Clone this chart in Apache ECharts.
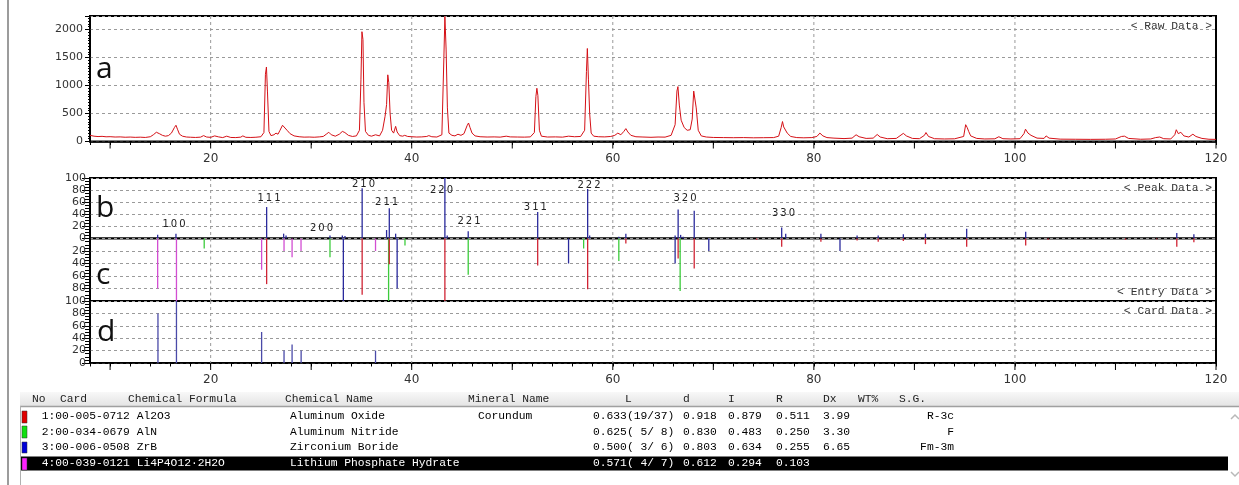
<!DOCTYPE html>
<html><head><meta charset="utf-8">
<script src="https://cdn.jsdelivr.net/npm/echarts@6/dist/echarts.min.js"></script>
<style>html,body{margin:0;padding:0;background:#fff;}#c{width:1239px;height:485px;}</style>
</head><body><div id="c"></div>
<script>
// ---------- DATA ----------
const xGridValues = [20, 40, 60, 80, 100, 120];
const xMajorTicks = [10, 20, 30, 40, 50, 60, 70, 80, 90, 100, 110, 120];
const rawData = [
[8.0,110],[8.4,95],[8.8,88],[9.2,92],[9.6,84],[10.0,86],[10.5,80],[11.0,82],[11.5,76],[12.0,79],[12.5,74],[13.0,77],[13.5,72],[14.0,85],[14.3,120],[14.6,165],[14.9,140],[15.2,110],[15.5,95],[15.8,105],[16.1,150],[16.4,250],[16.55,290],[16.7,220],[16.9,130],[17.2,95],[17.6,80],[18.0,76],[18.5,72],[19.0,78],[19.3,105],[19.6,80],[20.0,74],[20.4,100],[20.8,82],[21.2,70],[21.6,95],[22.0,72],[22.5,70],[23.0,78],[23.2,100],[23.5,75],[24.0,72],[24.5,76],[25.0,85],[25.3,160],[25.45,1200],[25.55,1330],[25.65,900],[25.8,180],[26.0,105],[26.3,120],[26.5,150],[26.7,130],[26.9,200],[27.15,290],[27.3,270],[27.6,200],[27.9,140],[28.3,100],[28.8,85],[29.3,78],[29.8,80],[30.3,76],[30.8,82],[31.2,90],[31.5,130],[31.75,165],[32.0,120],[32.4,95],[32.8,130],[33.1,180],[33.35,160],[33.7,110],[34.1,90],[34.5,100],[34.8,200],[34.95,1100],[35.05,1960],[35.15,1820],[35.25,700],[35.4,180],[35.7,110],[36.0,95],[36.4,120],[36.8,100],[37.1,200],[37.35,450],[37.5,660],[37.62,1190],[37.72,1050],[37.85,500],[38.0,200],[38.2,150],[38.4,270],[38.55,170],[38.8,105],[39.1,95],[39.3,110],[39.6,90],[40.0,85],[40.5,80],[41.0,82],[41.5,90],[41.7,105],[42.0,85],[42.5,80],[43.0,120],[43.2,1500],[43.3,2230],[43.42,1650],[43.55,600],[43.7,150],[44.0,110],[44.3,100],[44.6,130],[44.9,110],[45.2,140],[45.5,280],[45.65,330],[45.8,250],[46.0,150],[46.3,100],[46.8,85],[47.5,80],[48.2,82],[48.8,78],[49.4,95],[49.8,82],[50.5,80],[51.2,78],[51.8,82],[52.2,160],[52.35,800],[52.45,950],[52.55,820],[52.7,200],[52.9,95],[53.5,80],[54.3,82],[55.0,78],[55.6,95],[56.2,85],[56.8,90],[57.2,200],[57.38,1250],[57.47,1660],[57.58,1100],[57.7,500],[57.85,150],[58.1,95],[58.6,85],[59.2,82],[59.8,90],[60.2,110],[60.5,150],[60.8,120],[61.1,180],[61.3,230],[61.5,170],[61.8,110],[62.3,85],[63.0,80],[63.8,75],[64.5,80],[65.2,78],[65.8,110],[66.2,300],[66.38,900],[66.48,980],[66.62,650],[66.8,380],[67.1,250],[67.4,200],[67.7,210],[67.9,400],[68.05,900],[68.15,920],[68.3,600],[68.5,200],[68.8,100],[69.3,80],[70.0,72],[71.0,70],[72.0,68],[73.0,70],[74.0,66],[75.0,68],[76.0,70],[76.5,95],[76.75,250],[76.88,356],[77.0,260],[77.15,250],[77.35,150],[77.7,90],[78.3,70],[79.0,66],[79.8,70],[80.3,90],[80.6,150],[80.9,100],[81.3,70],[82.0,60],[83.0,52],[83.8,60],[84.2,120],[84.5,85],[85.2,55],[85.9,60],[86.3,125],[86.6,80],[87.3,50],[88.2,55],[88.9,145],[89.2,100],[89.8,55],[90.5,50],[91.0,110],[91.15,160],[91.4,90],[92.0,50],[93.0,45],[94.0,48],[94.9,90],[95.1,300],[95.25,250],[95.4,180],[95.6,100],[96.2,55],[97.0,45],[98.0,48],[98.4,85],[98.8,50],[99.6,45],[100.5,50],[100.9,140],[101.05,220],[101.3,150],[101.6,110],[102.2,60],[102.9,55],[103.1,100],[103.4,60],[104.5,42],[106.0,40],[107.5,38],[109.0,40],[110.0,45],[110.6,90],[110.9,95],[111.3,55],[112.5,40],[113.5,45],[114.0,70],[114.4,80],[114.8,50],[115.5,45],[115.9,120],[116.05,210],[116.25,140],[116.5,165],[116.8,100],[117.3,80],[117.7,130],[118.0,90],[118.6,55],[119.3,40],[120.0,38]
];
// Peak data (panel b, upward)
const peakData = [[14.73,6],[16.55,8],[25.57,52],[27.26,8],[27.5,5],[31.87,5],[33.1,5],[33.36,4],[35.07,83],[37.5,14],[37.77,50],[38.4,8],[43.3,100],[43.53,5],[45.62,12],[52.53,44],[57.5,82],[57.7,5],[60.6,3],[61.3,8],[66.2,5],[66.5,48],[66.75,6],[67.0,3],[68.1,46],[76.8,18],[77.2,8],[80.7,8],[84.3,5],[86.4,5],[88.9,7],[91.1,8],[95.2,16],[101.07,11],[116.1,9],[117.8,7]];
// Entry data (panel c, downward) per phase
const entryAl2O3 = [[25.57,73],[35.07,90],[37.77,41],[43.3,100],[52.53,43],[57.5,81],[61.3,8],[66.5,32],[68.1,48],[74.3,2],[76.8,13],[80.7,5],[84.3,3],[86.4,5],[88.9,4],[91.1,9],[95.2,13],[101.07,11],[103.3,2],[111.0,2],[114.1,1],[116.1,13],[117.8,6]];
const entryAlN = [[19.36,16],[31.87,30],[37.7,100],[39.33,11],[45.62,58],[57.1,16],[60.6,36],[66.7,84]];
const entryZrB = [[33.2,100],[38.55,80],[55.6,40],[66.2,40],[69.55,20],[82.6,20]];
const entryLiP = [[14.73,80],[16.6,100],[25.07,50],[27.3,20],[28.1,30],[28.99,20],[36.4,20]];
// Card data (panel d)
const cardData = [[14.76,80],[16.6,100],[25.07,50],[27.3,20],[28.1,30],[29.0,20],[36.4,20]];
// hkl labels
const millerText = ['100','111','200','210','211','220','221','311','222','320','330'];
const millerAngle = [16.35,25.8,31.03,35.2,37.5,42.96,45.7,52.3,57.63,67.18,76.98];
const millerLevel = [24,67,17,90,60,80,29,52,87,67,42];
// table
const tableHeader = ['No','Card','Chemical Formula','Chemical Name','Mineral Name','L','d','I','R','Dx','WT%','S.G.'];
const tableNoCard = ['1:00-005-0712','2:00-034-0679','3:00-006-0508','4:00-039-0121'];
const tableFormula = ['Al2O3','AlN','ZrB','Li4P4O12\u00b72H2O'];
const tableName = ['Aluminum Oxide','Aluminum Nitride','Zirconium Boride','Lithium Phosphate Hydrate'];
const tableMineral = ['Corundum','','',''];
const tableL = ['0.633(19/37)','0.625( 5/ 8)','0.500( 3/ 6)','0.571( 4/ 7)'];
const tableD = ['0.918','0.830','0.803','0.612'];
const tableI = ['0.879','0.483','0.634','0.294'];
const tableR = ['0.511','0.250','0.255','0.103'];
const tableDx = ['3.99','3.30','6.65',''];
const tableSG = ['R-3c','F','Fm-3m',''];
const phaseColors = ['#e00000','#10e010','#0000d8','#ff20ff'];

// ---------- CHART ----------
const chart = echarts.init(document.getElementById('c'), null, {renderer:'canvas'});
const L = 90, W = 1126;
const grids = [
  {left:L, top:16, width:W, height:125.5},
  {left:L, top:178, width:W, height:60.5},
  {left:L, top:238.5, width:W, height:62.5},
  {left:L, top:301, width:W, height:62}
].map(g => Object.assign({show:true, backgroundColor:'#fff', borderColor:'#000', borderWidth:2, containLabel:false}, g));

function xAx(gi, show){
  return {type:'value', gridIndex:gi, min:8, max:120, interval:2,
    axisLine:{show:show, onZero:false, lineStyle:{color:'#000', width:1.5}},
    axisTick:{show:show, length:3.5, lineStyle:{color:'#000'}},
    axisLabel:{show:show, margin:11, fontSize:12, color:'#333', fontFamily:'DejaVu Sans',
      formatter: v => xGridValues.indexOf(Math.round(v)) >= 0 && Math.abs(v-Math.round(v))<1e-6 ? String(Math.round(v)) : ''},
    splitLine:{show:false}};
}
function yAx(gi, opt){
  return Object.assign({type:'value', gridIndex:gi,
    axisLine:{show:true, onZero:false, lineStyle:{color:'#000', width:1.5}},
    axisTick:{show:true, length:opt.tick, lineStyle:{color:'#000'}},
    minorTick:{show:true, splitNumber:opt.minor, length:opt.tick-3, lineStyle:{color:'#000'}},
    axisLabel:{fontSize:11, color:'#333', fontFamily:'DejaVu Sans', margin:opt.margin, formatter:opt.fmt},
    splitLine:{show:true, lineStyle:{color:'#9a9a9a', type:[3,3], width:1}}}, opt.extra);
}

function stick(color, width){
  return function(params, api){
    const x = api.value(0), v = api.value(1);
    const p0 = api.coord([x, 0]), p1 = api.coord([x, v]);
    return {type:'line', shape:{x1:p0[0], y1:p0[1], x2:p1[0], y2:p1[1]}, style:{stroke:color, lineWidth:width||1.3}};
  };
}
function vgrid(params, api){
  const p = api.coord([api.value(0), 0]);
  const cs = params.coordSys;
  return {type:'line', shape:{x1:p[0], y1:cs.y, x2:p[0], y2:cs.y+cs.height}, style:{stroke:'#9a9a9a', lineWidth:1, lineDash:[3,3]}};
}
function majorTick(params, api){
  const p = api.coord([api.value(0), 0]);
  const cs = params.coordSys;
  const yb = cs.y + cs.height;
  return {type:'line', shape:{x1:p[0], y1:yb, x2:p[0], y2:yb+7}, style:{stroke:'#000', lineWidth:1}};
}
const gridLineData = xGridValues.filter(v => v < 120).map(v => [v]);
const series = [];
for (let i = 0; i < 4; i++) {
  series.push({type:'custom', xAxisIndex:i, yAxisIndex:i, data:gridLineData, renderItem:vgrid, silent:true, z:1});
}
[0, 3].forEach(i => series.push({type:'custom', xAxisIndex:i, yAxisIndex:i, data:xMajorTicks.map(v => [v]), renderItem:majorTick, silent:true, clip:false, z:5}));
series.push({type:'line', xAxisIndex:0, yAxisIndex:0, data:rawData, showSymbol:false, symbol:'none', smooth:false, lineStyle:{color:'#d41016', width:1}, silent:true, z:3});
series.push({type:'custom', xAxisIndex:1, yAxisIndex:1, data:peakData, renderItem:stick('#2a2a9c'), silent:true, z:3});
series.push({type:'custom', xAxisIndex:2, yAxisIndex:2, data:entryLiP, renderItem:stick('#d24ed2'), silent:true, z:3});
series.push({type:'custom', xAxisIndex:2, yAxisIndex:2, data:entryAlN, renderItem:stick('#3ccc3c'), silent:true, z:3});
series.push({type:'custom', xAxisIndex:2, yAxisIndex:2, data:entryZrB, renderItem:stick('#2a2a9c'), silent:true, z:3});
series.push({type:'custom', xAxisIndex:2, yAxisIndex:2, data:entryAl2O3, renderItem:stick('#d02434'), silent:true, z:3});
series.push({type:'custom', xAxisIndex:3, yAxisIndex:3, data:cardData, renderItem:stick('#4a4aa8'), silent:true, z:3});
series.push({type:'custom', xAxisIndex:1, yAxisIndex:1, silent:true, z:4,
  data: millerText.map((t, i) => [millerAngle[i], millerLevel[i], t]),
  renderItem: function(params, api){
    const p = api.coord([api.value(0), api.value(1)]);
    const t = millerText[params.dataIndex].split('').join('\u2009');
    return {type:'text', x:p[0], y:p[1], style:{text:t, font:'10px "DejaVu Sans"', fill:'#222', align:'center', textAlign:'center', verticalAlign:'middle', textVerticalAlign:'middle'}};
  }});

// ---------- GRAPHIC (labels & table) ----------
function txt(x, y, s, o){
  o = o || {};
  return {type:'text', x:x, y:y, silent:true, z:o.z || 20,
    style:{text:s, font:o.font || '11.3px "Liberation Mono"', fill:o.fill || '#000',
      align:o.align || 'left', textAlign:o.align || 'left', verticalAlign:'middle', textVerticalAlign:'middle'}};
}
const g = [];
g.push({type:'line', shape:{x1:8, y1:0, x2:8, y2:485}, style:{stroke:'#9c9c9c', lineWidth:2}, silent:true, z:5});
const bigFont = '30px "Open Sans"';
g.push(txt(96, 69, 'a', {font:bigFont, fill:'#111'}));
g.push(txt(96, 208, 'b', {font:bigFont, fill:'#111'}));
g.push(txt(96, 275, 'c', {font:bigFont, fill:'#111'}));
g.push(txt(97, 332, 'd', {font:bigFont, fill:'#111'}));
const tagFont = '11.3px "Liberation Mono"';
g.push(txt(1212, 26, '< Raw Data >', {align:'right', fill:'#333', font:tagFont}));
g.push(txt(1212, 188, '< Peak Data >', {align:'right', fill:'#333', font:tagFont}));
g.push(txt(1212, 292, '< Entry Data >', {align:'right', fill:'#333', font:tagFont}));
g.push(txt(1212, 311, '< Card Data >', {align:'right', fill:'#333', font:tagFont}));
// table
g.push({type:'rect', shape:{x:20, y:392, width:1219, height:14}, style:{fill:{type:'linear', x:0, y:0, x2:0, y2:1, colorStops:[{offset:0, color:'#f8f8f8'}, {offset:1, color:'#e4e4e4'}]}}, silent:true, z:5});
g.push({type:'line', shape:{x1:20, y1:406.5, x2:1239, y2:406.5}, style:{stroke:'#a0a0a0', lineWidth:1.5}, silent:true, z:6});
g.push({type:'line', shape:{x1:20.5, y1:406, x2:20.5, y2:485}, style:{stroke:'#b0b0b0', lineWidth:1}, silent:true, z:6});
const headX = [32, 60, 128, 285, 468, 625, 683, 728, 776, 823, 858, 899];
tableHeader.forEach((h, i) => g.push(txt(headX[i], 399.5, h, {fill:'#222'})));
const rowY = [416.5, 432, 447.5, 463.5];
const boxY = [[411, 423], [426, 438], [442, 453], [458, 470]];
g.push({type:'rect', shape:{x:21, y:456.5, width:1207, height:14}, style:{fill:'#000'}, silent:true, z:7});
rowY.forEach((y, r) => {
  const f = r === 3 ? '#fff' : '#000';
  g.push({type:'rect', shape:{x:22, y:boxY[r][0], width:5, height:boxY[r][1]-boxY[r][0]}, style:{fill:phaseColors[r], stroke:'#333', lineWidth:0.5}, silent:true, z:8});
  g.push(txt(41.7, y, tableNoCard[r], {fill:f}));
  g.push(txt(136.7, y, tableFormula[r], {fill:f}));
  g.push(txt(290, y, tableName[r], {fill:f}));
  g.push(txt(478, y, tableMineral[r], {fill:f}));
  g.push(txt(593, y, tableL[r], {fill:f}));
  g.push(txt(683, y, tableD[r], {fill:f}));
  g.push(txt(728, y, tableI[r], {fill:f}));
  g.push(txt(776, y, tableR[r], {fill:f}));
  g.push(txt(823, y, tableDx[r], {fill:f}));
  g.push(txt(954, y, tableSG[r], {fill:f, align:'right'}));
});
// scrollbar arrows
g.push({type:'polyline', shape:{points:[[1231,419],[1235,415],[1239,419]]}, style:{stroke:'#b8b8b8', lineWidth:1.5, fill:null}, silent:true, z:8});
g.push({type:'polyline', shape:{points:[[1231,472],[1235,476],[1239,472]]}, style:{stroke:'#b8b8b8', lineWidth:1.5, fill:null}, silent:true, z:8});

const option = {
  animation:false,
  backgroundColor:'#fff',
  grid: grids,
  xAxis: [xAx(0, true), xAx(1, false), xAx(2, false), xAx(3, true)],
  yAxis: [
    yAx(0, {tick:5, minor:10, margin:7, fmt: v => (v % 500 === 0 ? String(v) : ''), extra:{min:0, max:2240, interval:500}}),
    yAx(1, {tick:8, minor:4, margin:4, fmt: v => String(v), extra:{min:0, max:100, interval:20}}),
    yAx(2, {tick:8, minor:4, margin:4, fmt: v => (v === 0 ? '' : String(v)), extra:{min:0, max:100, interval:20, inverse:true}}),
    yAx(3, {tick:8, minor:4, margin:4, fmt: v => (v === 100 ? '' : String(v)), extra:{min:0, max:100, interval:20}})
  ],
  series: series,
  graphic: g
};
chart.setOption(option);
</script></body></html>
